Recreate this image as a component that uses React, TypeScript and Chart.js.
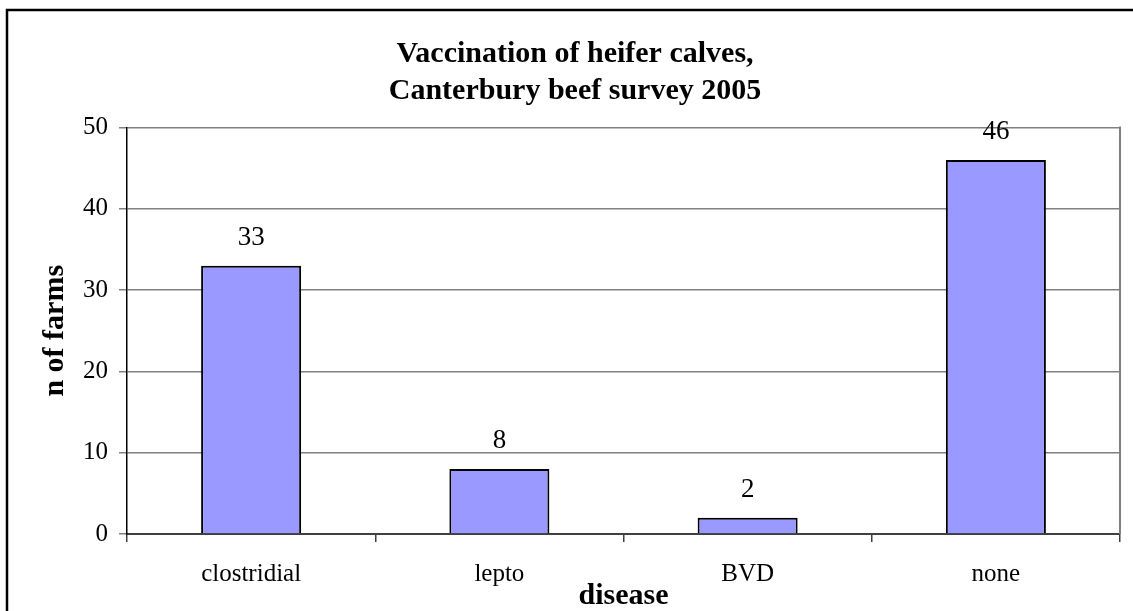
import React, { useEffect, useRef } from "react";
import { Chart, registerables } from "chart.js";

Chart.register(...registerables);

const categories = ["clostridial", "lepto", "BVD", "none"];
const farmCounts = [33, 8, 2, 46];
const yTicks = [0, 10, 20, 30, 40, 50];
const titleLines = ["Vaccination of heifer calves,", "Canterbury beef survey 2005"];
const xTitle = "disease";
const yTitle = "n of farms";

const FONT = "'Liberation Serif', 'Times New Roman', serif";

const framePlugin = {
  id: "frame",
  beforeDraw(chart: any) {
    const ctx = chart.ctx;
    ctx.save();
    ctx.fillStyle = "#ffffff";
    ctx.fillRect(0, 0, chart.width, chart.height);
    ctx.strokeStyle = "#000000";
    ctx.lineWidth = 2.5;
    ctx.strokeRect(7, 10, chart.width + 50, chart.height + 50);
    ctx.restore();
  },
  afterDraw(chart: any) {
    const { ctx, chartArea } = chart;
    ctx.save();
    ctx.strokeStyle = "#808080";
    ctx.lineWidth = 2;
    ctx.beginPath();
    ctx.moveTo(chartArea.right, chartArea.top - 1);
    ctx.lineTo(chartArea.right, chartArea.bottom);
    ctx.stroke();
    ctx.restore();
  },
};

const valueLabelPlugin = {
  id: "valueLabels",
  afterDatasetsDraw(chart: any) {
    const { ctx } = chart;
    const meta = chart.getDatasetMeta(0);
    const data = chart.data.datasets[0].data as number[];
    ctx.save();
    ctx.font = `27px ${FONT}`;
    ctx.fillStyle = "#000000";
    ctx.textAlign = "center";
    ctx.textBaseline = "alphabetic";
    meta.data.forEach((bar: any, i: number) => {
      ctx.fillText(String(data[i]), bar.x, bar.y - 21);
    });
    ctx.restore();
  },
};

export default function App() {
  const ref = useRef<HTMLCanvasElement | null>(null);

  useEffect(() => {
    if (!ref.current) return;
    const chart = new Chart(ref.current, {
      type: "bar",
      data: {
        labels: categories,
        datasets: [
          {
            data: farmCounts,
            backgroundColor: "#9999FF",
            borderColor: "#000000",
            borderWidth: 2,
            barPercentage: 0.403,
            categoryPercentage: 1,
          },
        ],
      },
      options: {
        animation: false,
        responsive: false,
        layout: { padding: { left: 30, right: 13, top: 0, bottom: 0 } },
        plugins: {
          legend: { display: false },
          tooltip: { enabled: false },
          title: {
            display: true,
            text: titleLines,
            color: "#000000",
            font: { family: FONT, size: 30, weight: "bold", lineHeight: 37 / 30 },
            padding: { top: 35.5, bottom: 18 },
          },
        },
        scales: {
          x: {
            afterFit: (s: any) => {
              s.height = 77;
            },
            grid: {
              offset: true,
              drawOnChartArea: false,
              drawTicks: true,
              tickLength: 8,
              color: "#404040",
              lineWidth: 1.5,
            },
            border: { display: true, color: "#404040", width: 2 },
            ticks: {
              color: "#000000",
              font: { family: FONT, size: 25 },
              padding: 17,
              maxRotation: 0,
            },
            title: {
              display: true,
              text: xTitle,
              color: "#000000",
              font: { family: FONT, size: 30, weight: "bold", lineHeight: 1 },
              padding: { top: 0, bottom: 0 },
            },
          },
          y: {
            min: 0,
            max: 50,
            afterFit: (s: any) => {
              s.width = 97;
            },
            afterBuildTicks: (s: any) => {
              s.ticks = yTicks.map((v) => ({ value: v }));
            },
            grid: {
              color: "#808080",
              lineWidth: 1.5,
              drawTicks: true,
              tickLength: 8,
            },
            border: { display: true, color: "#000000", width: 1.5 },
            ticks: {
              color: "#000000",
              font: { family: FONT, size: 25 },
              padding: 11,
            },
            title: {
              display: true,
              text: yTitle,
              color: "#000000",
              font: { family: FONT, size: 30, weight: "bold", lineHeight: 1.2 },
              padding: { top: 7, bottom: 0 },
            },
          },
        },
      },
      plugins: [framePlugin, valueLabelPlugin],
    });
    return () => chart.destroy();
  }, []);

  return (
    <div style={{ position: "absolute", left: 0, top: 0, width: 1133, height: 611, overflow: "hidden" }}>
      <canvas ref={ref} width={1133} height={611} style={{ display: "block" }} />
    </div>
  );
}
